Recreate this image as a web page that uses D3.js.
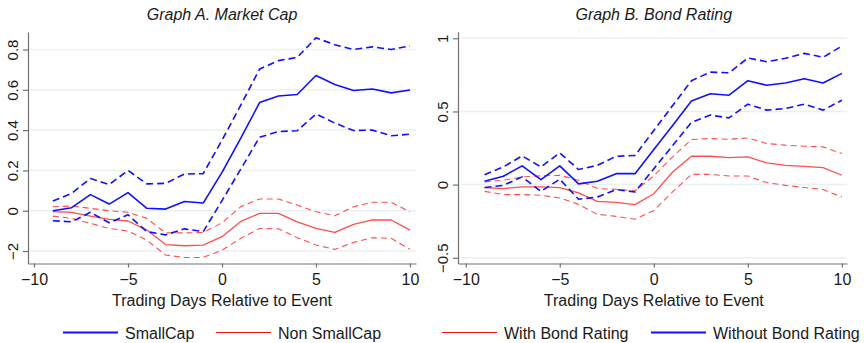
<!DOCTYPE html>
<html>
<head>
<meta charset="utf-8">
<script src="https://cdn.jsdelivr.net/npm/d3@7"></script>
<style>
  body { margin: 0; background: #fff; }
  svg { display: block; font-family: "Liberation Sans", Arial, Helvetica, sans-serif; }
</style>
</head>
<body>
<svg id="chart" width="864" height="343"></svg>
<script>
// days relative to the event
const days = [-9, -8, -7, -6, -5, -4, -3, -2, -1, 0, 1, 2, 3, 4, 5, 6, 7, 8, 9, 10];

// Graph A. Market Cap
const smallCap      = [0.00, 0.015, 0.08, 0.033, 0.09, 0.012, 0.008, 0.046, 0.038, 0.19, 0.36, 0.537, 0.569, 0.577, 0.671, 0.626, 0.597, 0.604, 0.585, 0.599];
const smallCapHi    = [0.048, 0.086, 0.16, 0.13, 0.2, 0.133, 0.136, 0.182, 0.184, 0.35, 0.524, 0.703, 0.745, 0.761, 0.858, 0.824, 0.80, 0.813, 0.80, 0.818];
const smallCapLo    = [-0.05, -0.055, -0.008, -0.06, -0.02, -0.104, -0.12, -0.09, -0.104, 0.05, 0.207, 0.365, 0.393, 0.397, 0.48, 0.435, 0.398, 0.40, 0.372, 0.38];
const nonSmallCap   = [-0.005, -0.008, -0.027, -0.043, -0.051, -0.096, -0.168, -0.174, -0.171, -0.129, -0.053, -0.013, -0.013, -0.055, -0.088, -0.108, -0.068, -0.046, -0.046, -0.096];
const nonSmallCapHi = [0.02, 0.023, 0.012, 0, -0.008, -0.038, -0.11, -0.11, -0.108, -0.06, 0.02, 0.058, 0.058, 0.028, -0.005, -0.025, 0.02, 0.042, 0.042, -0.005];
const nonSmallCapLo = [-0.027, -0.038, -0.063, -0.088, -0.101, -0.146, -0.22, -0.232, -0.232, -0.196, -0.137, -0.088, -0.09, -0.134, -0.17, -0.192, -0.157, -0.134, -0.137, -0.192];

// Graph B. Bond Rating
const withRating    = [-0.02, -0.027, -0.016, -0.016, -0.02, -0.057, -0.114, -0.121, -0.137, -0.062, 0.086, 0.194, 0.194, 0.185, 0.19, 0.148, 0.132, 0.125, 0.116, 0.064];
const withRatingHi  = [0.018, 0.03, 0.053, 0.06, 0.064, 0.03, -0.027, -0.032, -0.043, 0.06, 0.19, 0.308, 0.315, 0.31, 0.319, 0.281, 0.27, 0.262, 0.258, 0.212];
const withRatingLo  = [-0.046, -0.068, -0.068, -0.073, -0.091, -0.135, -0.203, -0.217, -0.237, -0.176, -0.05, 0.07, 0.07, 0.059, 0.059, 0.014, -0.005, -0.02, -0.034, -0.085];
const withoutRating   = [0.023, 0.057, 0.128, 0.034, 0.128, 0.005, 0.023, 0.075, 0.075, 0.24, 0.404, 0.571, 0.621, 0.611, 0.71, 0.679, 0.694, 0.723, 0.694, 0.76];
const withoutRatingHi = [0.068, 0.121, 0.196, 0.121, 0.217, 0.103, 0.132, 0.194, 0.199, 0.37, 0.54, 0.71, 0.769, 0.764, 0.865, 0.84, 0.863, 0.897, 0.87, 0.947];
const withoutRatingLo = [-0.02, -0.005, 0.053, -0.046, 0.037, -0.1, -0.085, -0.034, -0.05, 0.108, 0.267, 0.425, 0.475, 0.456, 0.55, 0.509, 0.52, 0.55, 0.509, 0.577];

// ticks
const xTicks = [-10, -5, 0, 5, 10];
const xTickLabels = ["\u221210", "\u22125", "0", "5", "10"];
const yTicksA = [-0.2, 0, 0.2, 0.4, 0.6, 0.8];
const yTickLabelsA = ["\u22122", "0", "0.2", "0.4", "0.6", "0.8"];
const yTicksB = [-0.5, 0, 0.5, 1];
const yTickLabelsB = ["\u22120.5", "0", "0.5", "1"];

const BLUE = "#1010ff";
const RED = "#ff3b3b";

const svg = d3.select("#chart");

function drawPanel(p) {
	const x = d3.scaleLinear().domain(p.xDomain).range(p.xRange);
	const y = d3.scaleLinear().domain(p.yDomain).range(p.yRange);
	const g = svg.append("g");

	// gridlines
	g.append("g")
		.selectAll("line")
		.data(p.yTicks)
		.enter().append("line")
		.attr("x1", p.xRange[0])
		.attr("x2", p.xRange[1])
		.attr("y1", d => y(d))
		.attr("y2", d => y(d))
		.attr("stroke", "#eaf1f3")
		.attr("stroke-width", 1.5);

	// series
	const line = d3.line()
		.x((d, i) => x(days[i]))
		.y(d => y(d));

	p.series.forEach(s => {
		g.append("path")
			.datum(s.values)
			.attr("fill", "none")
			.attr("stroke", s.color)
			.attr("stroke-width", s.width)
			.attr("stroke-opacity", s.opacity || 1)
			.attr("stroke-dasharray", s.dash || null)
			.attr("stroke-linejoin", "round")
			.attr("d", line);
	});

	// x axis
	const xAxis = g.append("g")
		.attr("transform", `translate(0,${p.yRange[0]})`)
		.call(d3.axisBottom(x)
			.tickValues(xTicks)
			.tickFormat((d, i) => xTickLabels[i])
			.tickSize(4)
			.tickSizeOuter(0));
	xAxis.selectAll("text")
		.attr("y", 21.5)
		.attr("dy", 0)
		.attr("font-size", 16)
		.attr("fill", "#1a1a1a");

	// y axis
	const yAxis = g.append("g")
		.attr("transform", `translate(${p.xRange[0]},0)`)
		.call(d3.axisLeft(y)
			.tickValues(p.yTicks)
			.tickFormat((d, i) => p.yTickLabels[i])
			.tickSize(5)
			.tickSizeOuter(0));
	yAxis.selectAll("text")
		.attr("transform", "rotate(-90)")
		.attr("x", 0)
		.attr("y", -10.5)
		.attr("dy", 0)
		.attr("text-anchor", "middle")
		.attr("font-size", 15)
		.attr("fill", "#1a1a1a");

	[xAxis, yAxis].forEach(a => {
		a.select(".domain").attr("stroke", "#707070").attr("stroke-width", 1.2);
		a.selectAll(".tick line").attr("stroke", "#707070").attr("stroke-width", 1.2);
	});

	const cx = (x(-10) + x(10)) / 2;

	// title
	g.append("text")
		.attr("x", cx)
		.attr("y", 20)
		.attr("text-anchor", "middle")
		.attr("font-size", 16)
		.attr("font-style", "italic")
		.attr("fill", "#1a1a1a")
		.text(p.title);

	// x axis title
	g.append("text")
		.attr("x", cx)
		.attr("y", 306)
		.attr("text-anchor", "middle")
		.attr("font-size", 16)
		.attr("fill", "#1a1a1a")
		.text("Trading Days Relative to Event");

	// legend
	p.legend.forEach(l => {
		g.append("line")
			.attr("x1", l.x)
			.attr("x2", l.x + 55)
			.attr("y1", 332.5)
			.attr("y2", 332.5)
			.attr("stroke", l.color)
			.attr("stroke-width", l.width);
		g.append("text")
			.attr("x", l.x + 62)
			.attr("y", 338.5)
			.attr("font-size", 16)
			.attr("fill", "#1a1a1a")
			.text(l.label);
	});
}

drawPanel({
	title: "Graph A. Market Cap",
	xDomain: [-10.32, 10.32],
	xRange: [28, 416],
	yDomain: [-0.262, 0.887],
	yRange: [263.5, 32],
	yTicks: yTicksA,
	yTickLabels: yTickLabelsA,
	series: [
		{ values: nonSmallCapHi, color: RED, width: 1.1, dash: "6,4", opacity: 0.9 },
		{ values: nonSmallCapLo, color: RED, width: 1.1, dash: "6,4", opacity: 0.9 },
		{ values: nonSmallCap, color: RED, width: 1.3, opacity: 0.9 },
		{ values: smallCapHi, color: BLUE, width: 1.6, dash: "7,4" },
		{ values: smallCapLo, color: BLUE, width: 1.6, dash: "7,4" },
		{ values: smallCap, color: BLUE, width: 1.6 }
	],
	legend: [
		{ x: 63, label: "SmallCap", color: BLUE, width: 2.2 },
		{ x: 216, label: "Non SmallCap", color: "#e41a1a", width: 1.2 }
	]
});

drawPanel({
	title: "Graph B. Bond Rating",
	xDomain: [-10.41, 10.27],
	xRange: [458, 847],
	yDomain: [-0.539, 1.045],
	yRange: [263.5, 31.7],
	yTicks: yTicksB,
	yTickLabels: yTickLabelsB,
	series: [
		{ values: withRatingHi, color: RED, width: 1.1, dash: "6,4", opacity: 0.9 },
		{ values: withRatingLo, color: RED, width: 1.1, dash: "6,4", opacity: 0.9 },
		{ values: withRating, color: RED, width: 1.3, opacity: 0.9 },
		{ values: withoutRatingHi, color: BLUE, width: 1.6, dash: "7,4" },
		{ values: withoutRatingLo, color: BLUE, width: 1.6, dash: "7,4" },
		{ values: withoutRating, color: BLUE, width: 1.6 }
	],
	legend: [
		{ x: 442, label: "With Bond Rating", color: "#e41a1a", width: 1.2 },
		{ x: 651, label: "Without Bond Rating", color: BLUE, width: 2.2 }
	]
});
</script>
</body>
</html>
